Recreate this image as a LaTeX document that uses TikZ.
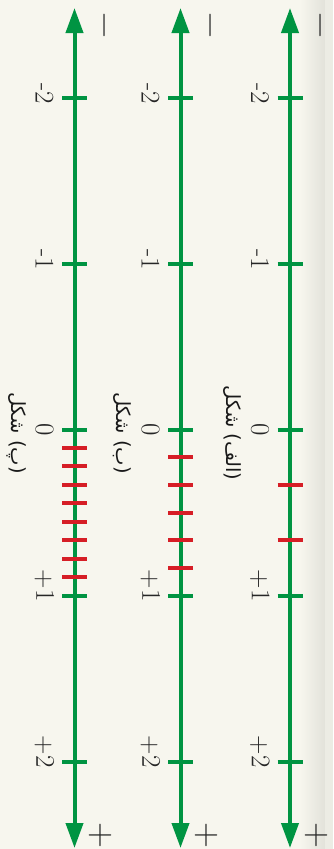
\documentclass[tikz,border=0pt]{standalone}
\usepackage{fontspec}
\usepackage{xcolor}
\usepackage{tikz}
\usetikzlibrary{
	arrows.meta
}
\TeXXeTstate=1
\newfontfamily\farsifont[Script=Arabic]{DejaVu Sans}
\definecolor{linegreen}{RGB}{0,148,66}
\definecolor{tickred}{RGB}{214,30,38}
\definecolor{paper}{RGB}{247,246,238}
\definecolor{edgegray}{RGB}{226,226,218}

\begin{document}
\begin{tikzpicture}[x=1pt, y=-1pt,
		numline/.style={line width=4pt, draw=linegreen, {Triangle[length=25pt,width=17pt]}-{Triangle[length=25pt,width=17pt]}},
		gtick/.style={line width=4pt, draw=linegreen},
		rtick/.style={line width=4pt, draw=tickred},
		numlabel/.style={rotate=-90, inner sep=0pt, text=black!85, font=\fontsize{27}{27}\selectfont},
		signlabel/.style={rotate=-90, inner sep=0pt, text=black!85, font=\fontsize{36}{36}\selectfont},
		figlabel/.style={rotate=-90, inner sep=0pt, text=black!90, font=\farsifont\fontsize{19.5}{19.5}\selectfont}]
		% 背景
		\useasboundingbox (0,0) rectangle (333,849);
		\fill[paper] (0,0) rectangle (333,849);
		\shade[left color=paper, right color=edgegray] (300,0) rectangle (325,849);
		\fill[edgegray!50!paper] (325,0) rectangle (333,849);
		% 三条数轴
		\foreach \nm/\xx/\parts/\last/\capt in {alef/290/3/2/{(الف) شکل}, be/180.5/6/5/{(ب) شکل}, pe/74.5/9/8/{(پ) شکل}} {
			\coordinate (\nm-top) at (\xx,8);
			\coordinate (\nm-bot) at (\xx,848);
			\draw[numline] (\nm-top) -- (\nm-bot);
			% 红色分点
			\foreach \j in {1,...,\last}
				\draw[rtick] ({\xx-12.5},{429.5+166*\j/\parts}) -- ++(25,0);
			% 整数刻度
			\foreach \k/\sg/\dg in {-2/-/2, -1/-/1, 0//0, 1/+/1, 2/+/2} {
				\draw[gtick] ({\xx-12.5},{429.5+166*\k}) -- ++(25,0);
				\node[numlabel] (\nm-v\k) at ({\xx-30},{429.5+166*\k}) {\llap{\sg}\dg};
			}
			% 正负方向
			\node[signlabel] (\nm-minus) at ({\xx+26},25) {−};
			\node[signlabel] (\nm-plus) at ({\xx+26},835) {+};
			% 图名
			\node[figlabel] (\nm-cap) at ({\xx-58},433) {\beginR\capt\endR};
		}
	\end{tikzpicture}
\end{document}
